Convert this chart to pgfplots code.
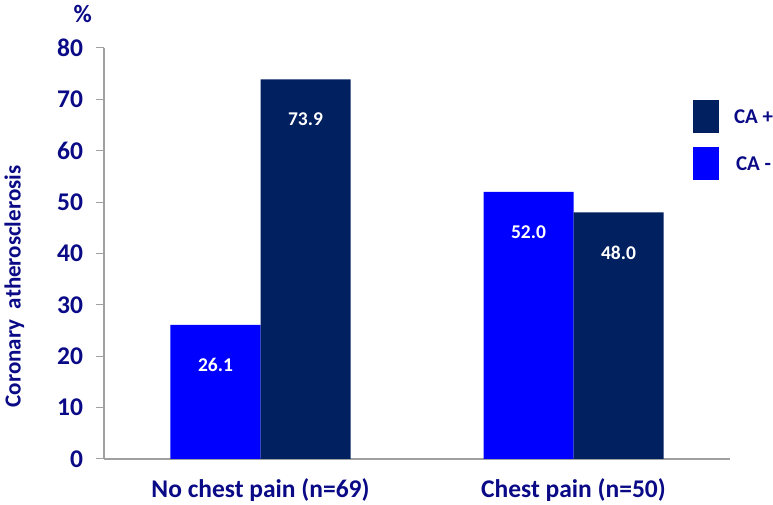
\documentclass[border=0pt]{standalone}
\usepackage{pgfplots}
\pgfplotsset{compat=1.18}
\usepackage{fontspec}
\setmainfont{Carlito}
\definecolor{txtnavy}{RGB}{10,10,135}
\definecolor{barnavy}{RGB}{0,32,96}
\definecolor{barblue}{RGB}{0,0,255}
\definecolor{axgray}{RGB}{160,160,160}
\begin{document}
\begin{tikzpicture}
\begin{axis}[
  scale only axis,
  width=626pt, height=411pt,
  ybar=0pt, bar width=90pt,
  xmin=-0.5, xmax=1.5,
  ymin=0, ymax=80,
  ytick={0,10,...,80},
  xtick={0,1},
  xticklabels={No chest pain (n=69), Chest pain (n=50)},
  extra x ticks={-0.5,0.5,1.5},
  extra x tick labels={},
  extra x tick style={major tick length=6pt, tick style={axgray, line width=1pt}},
  axis x line*=bottom, axis y line*=left,
  axis line style={axgray, line width=1.2pt},
  tick align=outside,
  ytick style={axgray, line width=1pt},
  major tick length=8pt,
  xtick style={draw=none},
  /pgf/number format/assume math mode=true,
  tick label style={font=\fontsize{25.5}{28}\selectfont\bfseries, text=txtnavy},
  yticklabel style={xshift=-9.5pt},
  xticklabel style={yshift=-8pt},
  ylabel={Coronary\ \ atherosclerosis},
  ylabel style={at={(axis description cs:-0.143,0.42)}, rotate=0, anchor=center, font=\fontsize{23}{26}\selectfont\bfseries, text=txtnavy},
  nodes near coords,
  nodes near coords style={anchor=center, yshift=-40pt, text=white, font=\fontsize{19.5}{22}\selectfont\bfseries,
    /pgf/number format/.cd, fixed, zerofill, precision=1, assume math mode=true},
  reverse legend,
  legend style={at={(axis description cs:0.941,0.873)}, anchor=north west, draw=none, fill=none,
    inner sep=0pt, outer sep=0pt, row sep=14pt,
    font=\fontsize{21}{24}\selectfont\bfseries, text=txtnavy,
    /tikz/every odd column/.style={column sep=13pt}},
  legend image code/.code={\fill[#1] (0pt,-16pt) rectangle (26pt,17pt);},
  enlarge x limits=false,
  clip=false,
]
\addplot[fill=barblue, draw=none] coordinates {(0,26.1) (1,52.0)};
\addplot[fill=barnavy, draw=none] coordinates {(0,73.9) (1,48.0)};
\legend{CA -, CA +}
\coordinate (sw) at (rel axis cs:0,0);
\coordinate (ne) at (rel axis cs:1,1);
\node[font=\fontsize{25}{28}\selectfont\bfseries, text=txtnavy] at (axis description cs:-0.034,1.083) {\%};
\end{axis}
\pgfresetboundingbox
\path[use as bounding box] ([shift={(-104pt,-46pt)}]sw) rectangle ([shift={(43pt,48pt)}]ne);
\end{tikzpicture}
\end{document}
